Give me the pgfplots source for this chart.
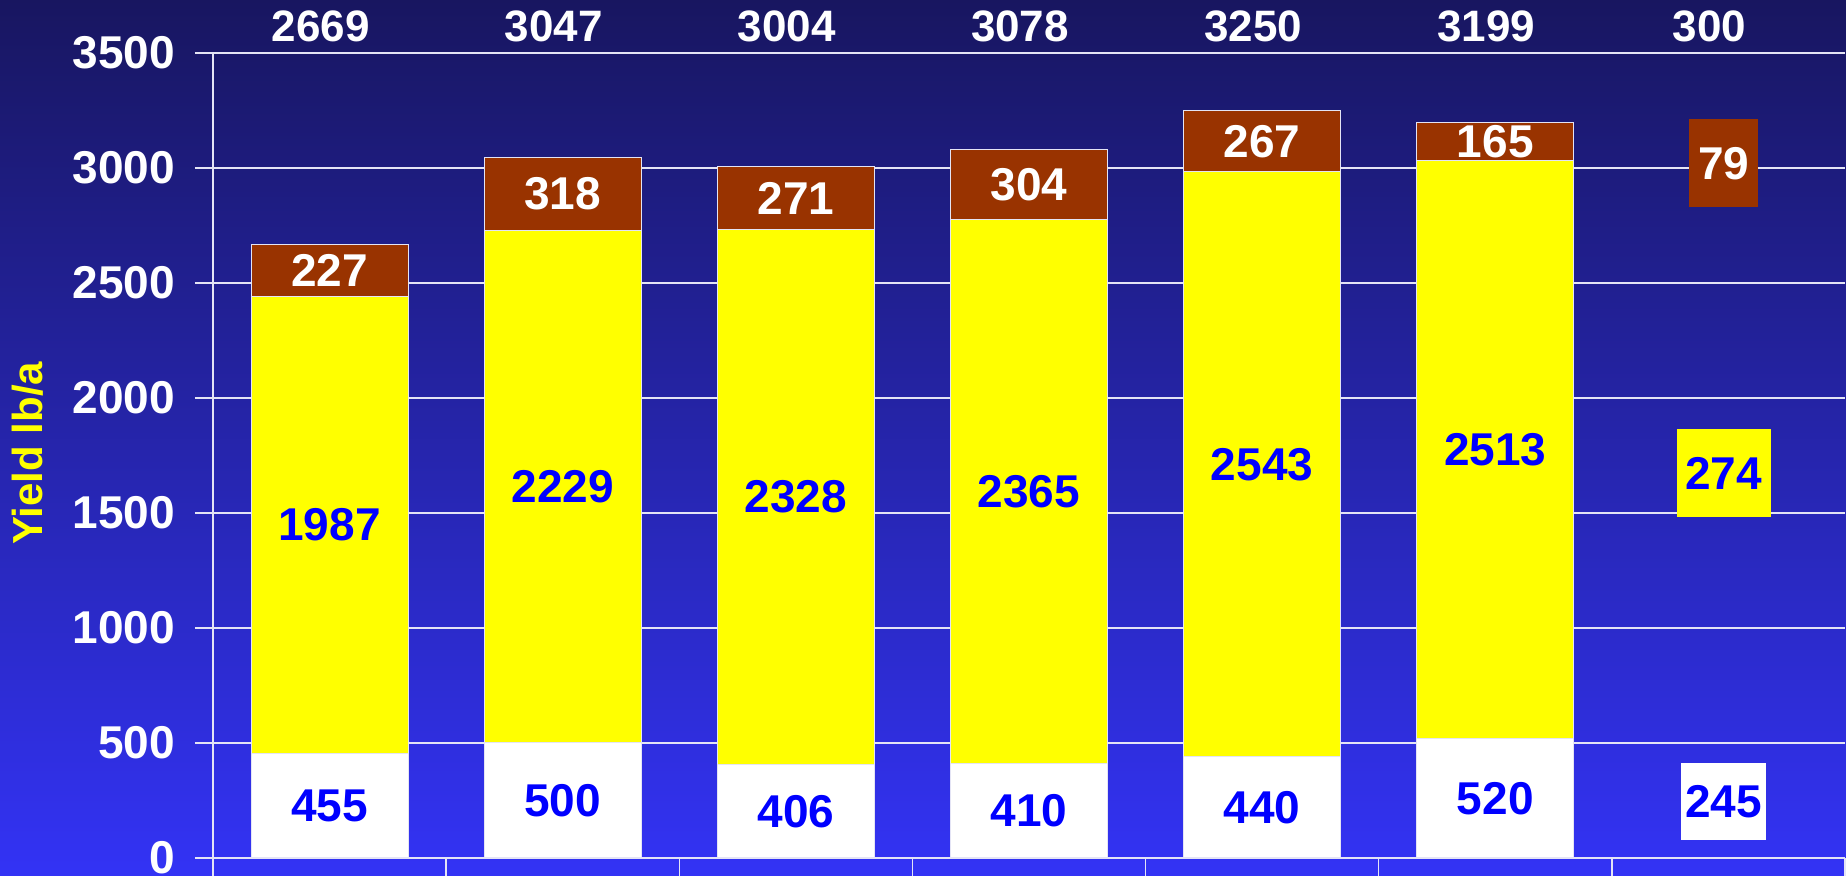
\documentclass[border=0pt]{standalone}
\usepackage{pgfplots}
\pgfplotsset{compat=1.18}
\usepackage{fontspec}
\setmainfont{Liberation Sans}
\definecolor{bgtop}{RGB}{24,22,96}
\definecolor{bgbot}{RGB}{51,51,245}
\definecolor{brn}{RGB}{153,51,0}
\definecolor{ylw}{RGB}{255,255,0}
\definecolor{lbl}{RGB}{0,0,255}
\definecolor{gridc}{RGB}{228,228,245}
\newcommand\lf{\fontsize{23}{23}\selectfont\bfseries}
\newcommand\tf{\fontsize{22}{22}\selectfont\bfseries}
\tikzset{bl/.style={text=lbl, font=\lf}, wl/.style={text=white, font=\lf},
  tl/.style={text=white, font=\tf, xshift=-4.5pt, yshift=13.5pt}}
\begin{document}
\begin{tikzpicture}
\useasboundingbox (0,0) rectangle (923pt,438pt);
\shade[top color=bgtop, bottom color=bgbot] (0,0) rectangle (923pt,438pt);
\begin{axis}[
  at={(106.5pt,9pt)}, anchor=south west,
  scale only axis, width=816pt, height=402.5pt,
  xmin=-0.5, xmax=6.5, ymin=0, ymax=3500,
  enlargelimits=false,
  ybar stacked, bar width=78.5pt,
  axis lines=left, axis line style={gridc, line width=0.7pt, -},
  xtick={-0.5,0.5,...,6.5}, xticklabels={},
  ytick={0,500,...,3500},
  yticklabels={0,500,1000,1500,2000,2500,3000,3500},
  tick align=outside, major tick length=9pt,
  tick style={gridc, line width=0.7pt},
  ymajorgrids, grid style={gridc, line width=0.7pt},
  yticklabel style={font=\lf, text=white, xshift=-6.5pt},
  clip=false,
]
\addplot[fill=white, draw=gridc, line width=0.5pt] coordinates {(0,455) (1,500) (2,406) (3,410) (4,440) (5,520)};
\addplot[fill=ylw, draw=gridc, line width=0.5pt] coordinates {(0,1987) (1,2229) (2,2328) (3,2365) (4,2543) (5,2513)};
\addplot[fill=brn, draw=gridc, line width=0.5pt] coordinates {(0,227) (1,318) (2,271) (3,304) (4,267) (5,165)};
% anchor points for the segment labels (midpoints of the segments)
\coordinate (w0) at (axis cs:0,227.5);
\coordinate (w1) at (axis cs:1,250);
\coordinate (w2) at (axis cs:2,203);
\coordinate (w3) at (axis cs:3,205);
\coordinate (w4) at (axis cs:4,220);
\coordinate (w5) at (axis cs:5,260);
\coordinate (y0) at (axis cs:0,1448.5);
\coordinate (y1) at (axis cs:1,1614.5);
\coordinate (y2) at (axis cs:2,1570);
\coordinate (y3) at (axis cs:3,1592.5);
\coordinate (y4) at (axis cs:4,1711.5);
\coordinate (y5) at (axis cs:5,1776.5);
\coordinate (b0) at (axis cs:0,2555.5);
\coordinate (b1) at (axis cs:1,2888);
\coordinate (b2) at (axis cs:2,2869.5);
\coordinate (b3) at (axis cs:3,2927);
\coordinate (b4) at (axis cs:4,3116.5);
\coordinate (b5) at (axis cs:5,3115.5);
% totals
\node[tl] at (axis cs:0,3500) {2669};
\node[tl] at (axis cs:1,3500) {3047};
\node[tl] at (axis cs:2,3500) {3004};
\node[tl] at (axis cs:3,3500) {3078};
\node[tl] at (axis cs:4,3500) {3250};
\node[tl] at (axis cs:5,3500) {3199};
\node[tl, xshift=-5pt] at (axis cs:6,3500) {300};
% floating boxes in the last column
\node[fill=brn, text=white, font=\lf, inner sep=0pt, minimum width=34.5pt, minimum height=44pt] at (axis cs:5.98,3020) {79};
\node[fill=ylw, text=lbl, font=\lf, inner sep=0pt, minimum width=47pt, minimum height=44pt] at (axis cs:5.98,1672) {274};
\node[fill=white, text=lbl, font=\lf, inner sep=0pt, minimum width=42.5pt, minimum height=38.5pt] at (axis cs:5.98,245.5) {245};
% y label
\node[rotate=90, text=ylw, font=\fontsize{21}{21}\selectfont\bfseries] at (axis cs:-1.2935,1760) {Yield lb/a};
\end{axis}
\node[bl] at (w0) {455};
\node[bl] at (w1) {500};
\node[bl] at (w2) {406};
\node[bl] at (w3) {410};
\node[bl] at (w4) {440};
\node[bl] at (w5) {520};
\node[bl] at (y0) {1987};
\node[bl] at (y1) {2229};
\node[bl] at (y2) {2328};
\node[bl] at (y3) {2365};
\node[bl] at (y4) {2543};
\node[bl] at (y5) {2513};
\node[wl] at (b0) {227};
\node[wl] at (b1) {318};
\node[wl] at (b2) {271};
\node[wl] at (b3) {304};
\node[wl] at (b4) {267};
\node[wl] at (b5) {165};
\end{tikzpicture}
\end{document}
